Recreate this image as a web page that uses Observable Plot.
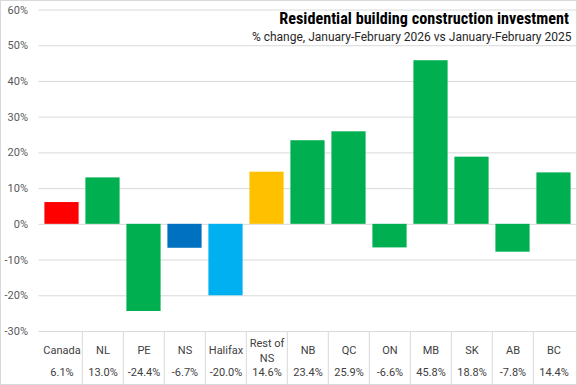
<!DOCTYPE html>
<html><head><meta charset="utf-8">
<script src="https://cdn.jsdelivr.net/npm/d3@7"></script>
<script src="https://cdn.jsdelivr.net/npm/@observablehq/plot@0.6"></script>
<style>
body{margin:0;background:#fff}
#chart svg{display:block;outline:1px solid #d9d9d9;outline-offset:-1px}
</style></head><body><div id="chart"></div>
<script>
const categories = ["Canada","NL","PE","NS","Halifax","Rest of\nNS","NB","QC","ON","MB","SK","AB","BC"];
const values = [6.1, 13.0, -24.4, -6.7, -20.0, 14.6, 23.4, 25.9, -6.6, 45.8, 18.8, -7.8, 14.4];
const valueLabels = ["6.1%","13.0%","-24.4%","-6.7%","-20.0%","14.6%","23.4%","25.9%","-6.6%","45.8%","18.8%","-7.8%","14.4%"];
const barColors = ["#FF0000","#00B050","#00B050","#0070C0","#00B0F0","#FFC000","#00B050","#00B050","#00B050","#00B050","#00B050","#00B050","#00B050"];
const yTicks = [-30,-20,-10,0,10,20,30,40,50,60];
const title = "Residential building construction investment";
const subtitle = "% change, January-February 2026 vs January-February 2025";

const data = categories.map((c, i) => ({category: c, value: values[i], label: valueLabels[i], color: barColors[i]}));

const W = 577, H = 385, mL = 38.5, mR = 0.5, mT = 9.5, mB = 54;
const step = (W - mL - mR) / categories.length;

const chart = Plot.plot({
  width: W, height: H,
  marginLeft: mL, marginRight: mR, marginTop: mT, marginBottom: mB,
  style: {fontFamily: "Roboto, 'Open Sans', sans-serif", fontSize: "11px", color: "#404040", background: "#fff"},
  x: {domain: categories, padding: 0, axis: null},
  y: {domain: [-30, 60], axis: null},
  marks: [
    Plot.gridY(yTicks, {stroke: "#d9d9d9", strokeOpacity: 1, strokeWidth: 1}),
    Plot.axisY(yTicks, {tickSize: 0, tickPadding: 11, tickFormat: d => d + "%", fill: "#595959", fontSize: 11, label: null}),
    Plot.barY(data, {x: "category", y: "value", fill: "color", insetLeft: 3.4, insetRight: 3.4}),
    Plot.ruleX(data.slice(1), {x: "category", y1: () => -30, y2: () => -30, dx: -step / 2, insetBottom: -mB, stroke: "#d9d9d9", strokeWidth: 1}),
    Plot.text(data, {x: "category", y: () => -30, dy: 18, text: "category", fill: "#404040", fontSize: 11, lineHeight: 1.4}),
    Plot.text(data, {x: "category", y: () => -30, dy: 41, text: "label", fill: "#404040", fontSize: 11}),
    Plot.text([title], {frameAnchor: "top-right", textAnchor: "end", lineAnchor: "middle", dx: -8, dy: 8.5, text: d => d,
      fontFamily: "'Liberation Sans Narrow', 'Roboto Condensed', 'DejaVu Sans Condensed', sans-serif", fontWeight: "bold", fontSize: 16.2, fill: "#000"}),
    Plot.text([subtitle], {frameAnchor: "top-right", textAnchor: "end", lineAnchor: "middle", dx: -5.5, dy: 27.5, text: d => d,
      fontSize: 12, fill: "#262626"})
  ]
});
document.getElementById("chart").append(chart);
</script></body></html>
